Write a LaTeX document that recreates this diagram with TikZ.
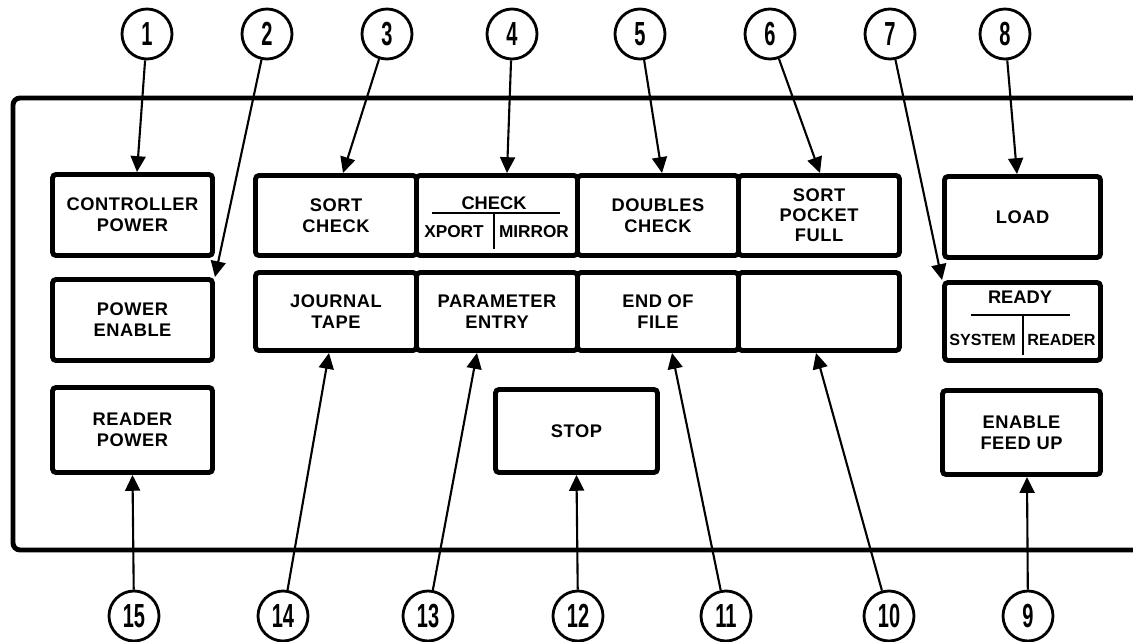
\documentclass[tikz,border=0pt]{standalone}
\usepackage{fontspec}
\setmainfont{Liberation Sans}
\newfontfamily\numfont[FakeStretch=0.6]{Liberation Sans}
\newfontfamily\lampfont[LetterSpace=3]{Liberation Sans}
\usetikzlibrary{arrows.meta}

\begin{document}
\begin{tikzpicture}[x=0.02cm,y=-0.02cm,
	lamp/.style={draw, line width=2.8pt, rounded corners=2pt, inner sep=0pt, align=center, font=\lampfont\bfseries\fontsize{10.4}{12}\selectfont, minimum width=3.22cm, minimum height=1.6cm},
	num/.style={circle, draw, line width=1.6pt, minimum size=1cm, inner sep=0pt, font=\numfont\bfseries\fontsize{19}{19}\selectfont},
	pointer/.style={-{Triangle[length=9pt,width=8.5pt]}, line width=1.2pt},
	split text/.style={inner sep=0pt, font=\bfseries\fontsize{9.8}{10}\selectfont}]
			\useasboundingbox (0,0) rectangle (1133,642);
			
			% Panel
			\draw[line width=2.8pt, rounded corners=4pt] (1145,98) -- (13,98) -- (13,550) -- (1145,550);
			
			% Nodes
			\node[lamp, minimum width=3.2cm, minimum height=1.62cm] (ctrl) at (132.5,215) {CONTROLLER\\POWER};
			\node[lamp, minimum width=3.2cm, minimum height=1.62cm] (pwren) at (132.5,320) {POWER\\ENABLE};
			\node[lamp, minimum width=3.2cm, minimum height=1.7cm] (rdrpwr) at (132.5,430) {READER\\POWER};
			
			\node[lamp] (sortchk) at (336,215.5) {SORT\\CHECK};
			\node[lamp] (check) at (497,215.5) {};
			\node[lamp] (dblchk) at (658,215.5) {DOUBLES\\CHECK};
			\node[lamp, font=\lampfont\bfseries\fontsize{10.4}{11.4}\selectfont] (pocket) at (819,215.5) {SORT\\POCKET\\FULL};
			
			\node[lamp, minimum height=1.56cm] (journal) at (336,311.5) {JOURNAL\\TAPE};
			\node[lamp, minimum height=1.56cm] (param) at (497,311.5) {PARAMETER\\ENTRY};
			\node[lamp, minimum height=1.56cm] (eof) at (658,311.5) {END OF\\FILE};
			\node[lamp, minimum height=1.56cm] (spare) at (819,311.5) {};
			
			\node[lamp, minimum width=3.24cm, minimum height=1.66cm] (stop) at (576.5,431) {STOP};
			
			\node[lamp, minimum width=3.12cm, minimum height=1.62cm] (load) at (1022.5,217) {LOAD};
			\node[lamp, minimum width=3.12cm, minimum height=1.56cm] (ready) at (1022.5,321.5) {};
			\node[lamp, minimum width=3.16cm, minimum height=1.68cm] (feed) at (1021.5,432.5) {ENABLE\\FEED UP};
			
			% split lamps
			\node[split text, font=\bfseries\fontsize{10.4}{10}\selectfont] (checkhd) at (494,203) {CHECK};
			\node[split text] (xport) at (454,232) {XPORT};
			\node[split text] (mirror) at (534,232) {MIRROR};
			\draw[line width=1.1pt] (432,213) -- (560,213);
			\draw[line width=1.1pt] (494,213) -- (494,249);
			
			\node[split text, font=\bfseries\fontsize{10.4}{10}\selectfont] (readyhd) at (1020,297) {READY};
			\node[split text, font=\bfseries\fontsize{9.2}{10}\selectfont] (system) at (982.5,340) {SYSTEM};
			\node[split text, font=\bfseries\fontsize{9.2}{10}\selectfont] (reader) at (1061.5,340) {READER};
			\draw[line width=1.1pt] (971,315) -- (1070,315);
			\draw[line width=1.1pt] (1023,315) -- (1023,355);
			
			% Callouts
			\node[num] (n1) at (147,34) {1};
			\node[num] (n2) at (267,34) {2};
			\node[num] (n3) at (387,34) {3};
			\node[num] (n4) at (512,34) {4};
			\node[num] (n5) at (640,34) {5};
			\node[num] (n6) at (770,34) {6};
			\node[num] (n7) at (890,34) {7};
			\node[num] (n8) at (1005,34) {8};
			\node[num] (n9) at (1028,616) {9};
			\node[num] (n10) at (889,616) {10};
			\node[num] (n11) at (726,616) {11};
			\node[num] (n12) at (578,616) {12};
			\node[num] (n13) at (428,616) {13};
			\node[num] (n14) at (283,616) {14};
			\node[num] (n15) at (134,616) {15};
			
			\coordinate (t1) at (137,172);
			\coordinate (t3) at (343,173);
			\coordinate (t4) at (507,173);
			\coordinate (t5) at (662,173);
			\coordinate (t6) at (820,173);
			\coordinate (t8) at (1017,174);
			\coordinate (t9) at (1027,477);
			\coordinate (t10) at (816,353);
			\coordinate (t11) at (672,353);
			\coordinate (t13) at (477,353);
			\coordinate (t14) at (329,353);
			
			\draw[pointer] (n1) -- (t1);
			\draw[pointer] (n2) -- (pwren.north east);
			\draw[pointer] (n3) -- (t3);
			\draw[pointer] (n4) -- (t4);
			\draw[pointer] (n5) -- (t5);
			\draw[pointer] (n6) -- (t6);
			\draw[pointer] (n7) -- (ready.north west);
			\draw[pointer] (n8) -- (t8);
			\draw[pointer] (n9) -- (t9);
			\draw[pointer] (n10) -- (t10);
			\draw[pointer] (n11) -- (t11);
			\draw[pointer] (n12) -- (stop.south);
			\draw[pointer] (n13) -- (t13);
			\draw[pointer] (n14) -- (t14);
			\draw[pointer] (n15) -- (rdrpwr.south);
			
		\end{tikzpicture}
\end{document}
